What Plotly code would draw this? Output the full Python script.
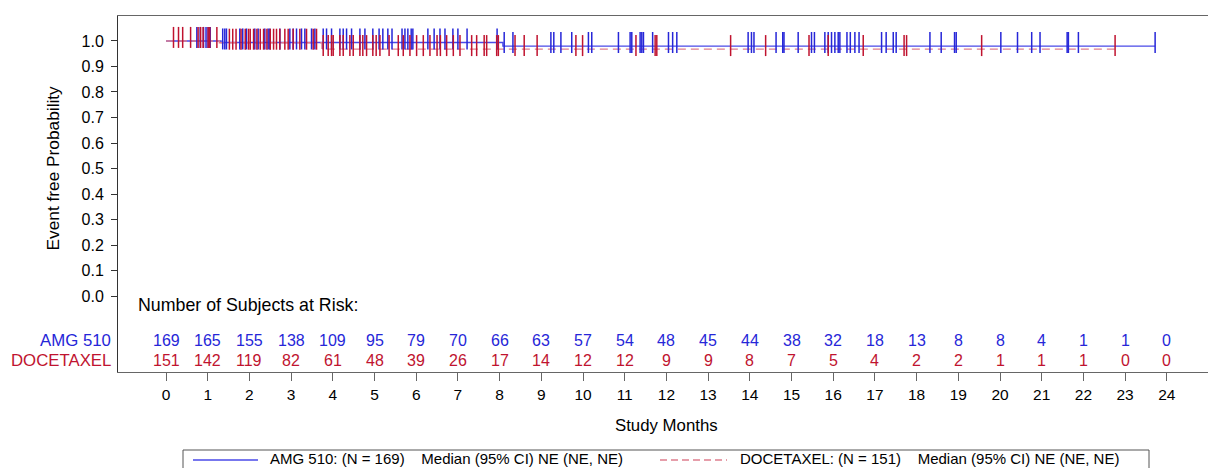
import numpy as np
import plotly.graph_objects as go

# ---------------- data ----------------
months = list(range(0, 25))
risk_amg = [169, 165, 155, 138, 109, 95, 79, 70, 66, 63, 57, 54, 48, 45, 44, 38, 32, 18, 13, 8, 8, 4, 1, 1, 0]
risk_doc = [151, 142, 119, 82, 61, 48, 39, 26, 17, 14, 12, 12, 9, 9, 8, 7, 5, 4, 2, 2, 1, 1, 1, 0, 0]

# Kaplan-Meier step curves (time, survival)
amg_t = [0.0, 1.32, 8.08, 23.72]
amg_s = [1.0, 0.994, 0.980, 0.980]
doc_t = [0.0, 1.28, 3.74, 22.76]
doc_s = [1.0, 0.993, 0.968, 0.968]

amg_censor = [0.74, 0.82, 0.90, 0.96, 1.01, 1.06, 1.36, 1.41, 1.45, 1.77, 1.84, 1.93, 2.13, 2.21, 2.37,
              2.45, 2.49, 2.73, 2.97, 3.05, 3.13, 3.25, 3.33, 3.49, 3.57, 3.77, 3.85, 3.97, 4.17, 4.25,
              4.33, 4.45, 4.65, 4.77, 4.96, 5.11, 5.20, 5.32, 5.42, 5.66, 5.73, 5.80, 5.88, 5.92, 6.28,
              6.43, 6.57, 6.69, 6.88, 7.00, 7.22, 7.94, 8.11, 8.32, 9.23, 9.30, 9.47, 9.73, 10.13, 10.21,
              10.85, 11.13, 11.17, 11.37, 11.41, 11.45, 11.67, 12.05, 12.15, 12.25, 13.96, 14.04, 14.10,
              14.63, 14.79, 14.82, 15.16, 15.48, 15.55, 15.80, 15.88, 15.96, 16.04, 16.12, 16.16, 16.33,
              16.41, 16.52, 16.62, 17.16, 17.27, 17.44, 17.51, 18.32, 18.59, 18.91, 18.95, 20.02, 20.42,
              20.76, 20.96, 21.61, 21.64, 21.88, 23.72]
doc_censor = [0.18, 0.30, 0.40, 0.59, 0.77, 0.83, 0.89, 1.01, 1.05, 1.22, 1.52, 1.60, 1.68, 1.80, 1.90,
              1.98, 2.02, 2.10, 2.18, 2.26, 2.34, 2.42, 2.50, 2.58, 2.65, 2.73, 2.85, 2.93, 3.05, 3.21,
              3.37, 3.53, 3.61, 3.77, 3.89, 3.97, 4.01, 4.17, 4.25, 4.41, 4.49, 4.65, 4.72, 4.81, 4.96,
              5.04, 5.13, 5.35, 5.57, 5.69, 5.85, 6.01, 6.17, 6.33, 6.50, 6.58, 6.73, 6.89, 7.05, 7.33,
              7.45, 7.63, 7.69, 7.93, 7.97, 8.37, 8.59, 8.90, 9.83, 9.99, 11.27, 11.73, 11.77, 13.54,
              14.38, 15.42, 15.88, 16.72, 17.70, 17.76, 19.56, 22.76]

y_ticks = [0.0, 0.1, 0.2, 0.3, 0.4, 0.5, 0.6, 0.7, 0.8, 0.9, 1.0]

BLUE_LINE = "#4a4ae8"
BLUE = "#2626d8"
RED_LINE = "#de7f8e"
RED = "#c0132f"
FONT = "Liberation Sans, Arial, sans-serif"


def step_at(times, surv, ct):
    idx = np.searchsorted(np.array(times), np.array(ct), side="right") - 1
    return np.array(surv)[idx]


MARK_LIFT = 0.014  # censor ticks sit slightly above the curve, as in SAS output

fig = go.Figure()
fig.add_trace(go.Scatter(x=amg_t, y=amg_s, mode="lines", line=dict(shape="hv", color=BLUE_LINE, width=1.4),
                         name="AMG 510", hoverinfo="skip"))
fig.add_trace(go.Scatter(x=doc_t, y=doc_s, mode="lines",
                         line=dict(shape="hv", color=RED_LINE, width=1.4, dash="8px,5px"),
                         name="DOCETAXEL", hoverinfo="skip"))
fig.add_trace(go.Scatter(x=amg_censor, y=step_at(amg_t, amg_s, amg_censor) + MARK_LIFT, mode="markers",
                         marker=dict(symbol="line-ns", size=15, line=dict(color=BLUE, width=1.5)),
                         name="AMG 510 censored", hoverinfo="skip"))
fig.add_trace(go.Scatter(x=doc_censor, y=step_at(doc_t, doc_s, doc_censor) + MARK_LIFT, mode="markers",
                         marker=dict(symbol="line-ns", size=15, line=dict(color=RED, width=1.5)),
                         name="DOCETAXEL censored", hoverinfo="skip"))

annotations = []
# at-risk table
annotations.append(dict(x=-0.72, y=-0.035, xref="x", yref="y", text="Number of Subjects at Risk:",
                        showarrow=False, xanchor="left", yanchor="middle",
                        font=dict(family=FONT, size=17.8, color="black")))
for m, a, d in zip(months, risk_amg, risk_doc):
    annotations.append(dict(x=m, y=-0.176, xref="x", yref="y", text=str(a), showarrow=False,
                            xanchor="center", yanchor="middle", font=dict(family=FONT, size=16, color=BLUE)))
    annotations.append(dict(x=m, y=-0.251, xref="x", yref="y", text=str(d), showarrow=False,
                            xanchor="center", yanchor="middle", font=dict(family=FONT, size=16, color=RED)))
annotations.append(dict(x=-0.0046, y=-0.176, xref="paper", yref="y", text="AMG 510", showarrow=False,
                        xanchor="right", yanchor="middle", font=dict(family=FONT, size=16.8, color=BLUE)))
annotations.append(dict(x=-0.0046, y=-0.251, xref="paper", yref="y", text="DOCETAXEL", showarrow=False,
                        xanchor="right", yanchor="middle", font=dict(family=FONT, size=16.8, color=RED)))

# y-axis title
annotations.append(dict(x=(52 - 118) / 1090, y=0.5, xref="paper", yref="y", text="Event free Probability",
                        showarrow=False, textangle=-90, xanchor="center", yanchor="middle",
                        font=dict(family=FONT, size=17.3, color="black")))
# x-axis title
annotations.append(dict(x=(666 - 118) / 1090, y=(372 - 425) / 356, xref="paper", yref="paper",
                        text="Study Months", showarrow=False, xanchor="center", yanchor="middle",
                        font=dict(family=FONT, size=16.8, color="black")))

# legend (custom, box runs off the bottom of the page as in the reference)
def px(xp):
    return (xp - 118) / 1090


def py(yp):
    return (372 - yp) / 356


shapes = [
    dict(type="rect", xref="paper", yref="paper", x0=px(183), x1=px(1149), y0=py(490), y1=py(450),
         line=dict(color="#555555", width=1), fillcolor="white", layer="above"),
    dict(type="line", xref="paper", yref="paper", x0=px(193), x1=px(258), y0=py(460), y1=py(460),
         line=dict(color=BLUE_LINE, width=1.4)),
    dict(type="line", xref="paper", yref="paper", x0=px(660), x1=px(727), y0=py(460), y1=py(460),
         line=dict(color=RED_LINE, width=1.4, dash="7px,4px")),
]
annotations.append(dict(x=px(268), y=py(458.5), xref="paper", yref="paper",
                        text="AMG 510: (N = 169)    Median (95% CI) NE (NE, NE)", showarrow=False,
                        xanchor="left", yanchor="middle", font=dict(family=FONT, size=15, color="black")))
annotations.append(dict(x=px(738), y=py(458.5), xref="paper", yref="paper",
                        text="DOCETAXEL: (N = 151)    Median (95% CI) NE (NE, NE)", showarrow=False,
                        xanchor="left", yanchor="middle", font=dict(family=FONT, size=15, color="black")))

fig.update_layout(
    width=1208, height=468,
    margin=dict(l=118, r=0, t=16, b=96, pad=0),
    paper_bgcolor="white", plot_bgcolor="white",
    showlegend=False,
    annotations=annotations,
    shapes=shapes,
    font=dict(family=FONT, size=16, color="black"),
)
fig.update_xaxes(range=[-1.151, 24.988], tickvals=months, ticktext=[str(m) for m in months],
                 ticks="outside", ticklen=8, tickcolor="#666666", showline=True, linecolor="#666666",
                 linewidth=1, mirror=True, showgrid=False, zeroline=False,
                 tickfont=dict(family=FONT, size=15.5, color="black"))
fig.update_yaxes(range=[-0.298, 1.098], tickvals=y_ticks, ticktext=[f"{v:.1f}" for v in y_ticks],
                 ticks="outside", ticklen=6, tickcolor="#333333", showline=True, linecolor="#333333",
                 linewidth=1, showgrid=False, zeroline=False, ticklabelstandoff=4,
                 tickfont=dict(family=FONT, size=16, color="black"))

fig.write_html("out.html")
